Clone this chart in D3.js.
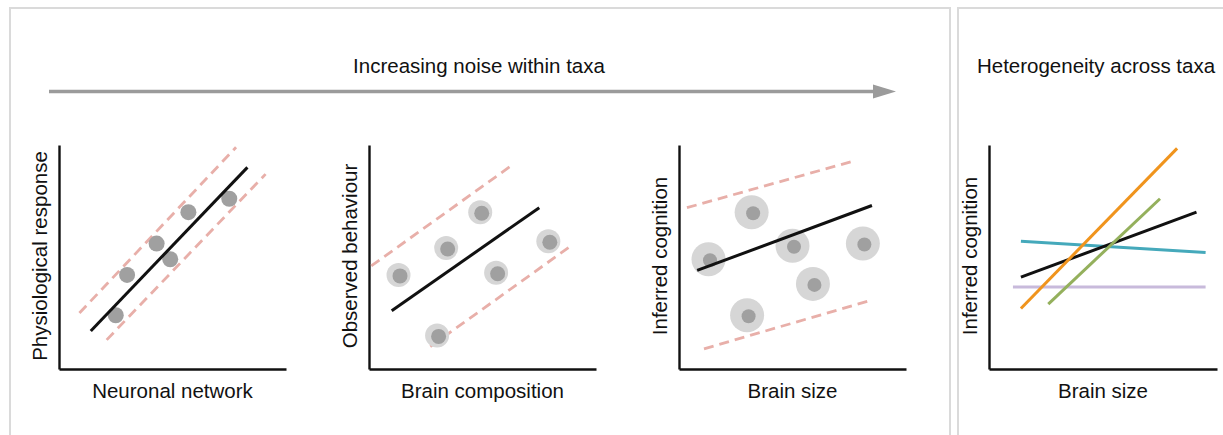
<!DOCTYPE html>
<meta charset="utf-8">
<script src="https://d3js.org/d3.v7.min.js"></script>
<style>
  body { margin: 0; background: #fff; }
  text { font-family: "Liberation Sans", Arial, sans-serif; fill: #111; }
</style>
<div id="chart"></div>
<script>

// panel texts
var xLabels = ["Neuronal network", "Brain composition", "Brain size", "Brain size"];
var yLabels = ["Physiological response", "Observed behaviour", "Inferred cognition", "Inferred cognition"];
var titleLeft = "Increasing noise within taxa";
var titleRight = "Heterogeneity across taxa";

// panel 1 - low noise (values on a 0-10 scale)
var p1Points = [[2.5, 2.4], [3.0, 4.2], [4.3, 5.6], [4.9, 4.9], [5.7, 7.0], [7.5, 7.6]];
var p1Fit = [[1.4, 1.7], [8.3, 9.0]];
var p1Upper = [[0.9, 2.5], [7.8, 9.9]];
var p1Lower = [[2.1, 1.3], [9.1, 8.7]];

// panel 2 - medium noise
var p2Points = [[1.3, 4.2], [3.4, 5.4], [4.9, 7.0], [5.6, 4.3], [7.9, 5.7], [3.0, 1.5]];
var p2Fit = [[1.0, 2.6], [7.5, 7.2]];
var p2Upper = [[0.1, 4.6], [6.3, 9.1]];
var p2Lower = [[2.7, 1.0], [8.9, 5.5]];

// panel 3 - high noise
var p3Points = [[1.3, 4.9], [3.2, 7.0], [5.0, 5.5], [8.1, 5.6], [5.9, 3.8], [3.0, 2.4]];
var p3Fit = [[0.8, 4.4], [8.5, 7.3]];
var p3Upper = [[0.35, 7.2], [7.75, 9.3]];
var p3Lower = [[1.1, 0.9], [8.4, 3.05]];

// panel 4 - heterogeneity across taxa, one slope per taxon
var taxa = ["lavender", "teal", "overall", "green", "orange"];
var taxaColors = ["#c8badb", "#45a9bb", "#111111", "#94b05c", "#f0941d"];
var taxaLines = [
  [[1.05, 3.66], [9.5, 3.66]],
  [[1.4, 5.7], [9.5, 5.2]],
  [[1.4, 4.1], [9.1, 7.0]],
  [[2.6, 2.9], [7.5, 7.6]],
  [[1.4, 2.7], [8.25, 9.85]]
];

var W = 1223, H = 435;
var svg = d3.select("#chart").append("svg")
  .attr("width", W)
  .attr("height", H);

// frames
svg.append("rect")
  .attr("x", 10).attr("y", 8)
  .attr("width", 940).attr("height", 460)
  .attr("fill", "none").attr("stroke", "#dadada").attr("stroke-width", 2);
svg.append("rect")
  .attr("x", 958).attr("y", 8)
  .attr("width", 300).attr("height", 460)
  .attr("fill", "none").attr("stroke", "#dadada").attr("stroke-width", 2);

// titles
svg.append("text")
  .attr("x", 479).attr("y", 73)
  .attr("text-anchor", "middle")
  .style("font-size", "20.5px")
  .text(titleLeft);
svg.append("text")
  .attr("x", 1096).attr("y", 73)
  .attr("text-anchor", "middle")
  .style("font-size", "20.5px")
  .text(titleRight);

// noise arrow
svg.append("line")
  .attr("x1", 49).attr("x2", 875)
  .attr("y1", 91.5).attr("y2", 91.5)
  .attr("stroke", "#9b9b9b").attr("stroke-width", 3.5);
svg.append("path")
  .attr("d", "M873,84.5 L896,91.5 L873,98.5 Z")
  .attr("fill", "#9b9b9b");

// axis boxes for each panel
var frames = [
  {x0: 59, x1: 286},
  {x0: 369, x1: 596},
  {x0: 679, x1: 906},
  {x0: 989, x1: 1217}
];
var yTop = 145, yBot = 369;

var panels = frames.map(function(f, i) {
  var x = d3.scaleLinear().domain([0, 10]).range([f.x0, f.x1]);
  var y = d3.scaleLinear().domain([0, 10]).range([yBot, yTop]);
  var g = svg.append("g");

  g.append("g")
    .attr("transform", "translate(0," + yBot + ")")
    .call(d3.axisBottom(x).tickValues([]).tickSizeOuter(0))
    .select(".domain").attr("stroke", "#111").attr("stroke-width", 2.4);
  g.append("g")
    .attr("transform", "translate(" + f.x0 + ",0)")
    .call(d3.axisLeft(y).tickValues([]).tickSizeOuter(0))
    .select(".domain").attr("stroke", "#111").attr("stroke-width", 2.4);

  g.append("text")
    .attr("x", (f.x0 + f.x1) / 2).attr("y", 398)
    .attr("text-anchor", "middle")
    .style("font-size", "20.5px")
    .text(xLabels[i]);
  g.append("text")
    .attr("transform", "translate(" + (f.x0 - 12) + "," + ((yTop + yBot) / 2 - 1) + ") rotate(-90)")
    .attr("text-anchor", "middle")
    .style("font-size", "20.5px")
    .text(yLabels[i]);

  return {g: g, x: x, y: y};
});

var line = function(p) {
  return d3.line().x(function(d) { return p.x(d[0]); }).y(function(d) { return p.y(d[1]); });
};

function noisePanel(p, pts, fit, upper, lower, halo, dot) {
  [upper, lower].forEach(function(b) {
    p.g.append("path")
      .datum(b)
      .attr("d", line(p))
      .attr("fill", "none")
      .attr("stroke", "#e8afa9")
      .attr("stroke-width", 2.8)
      .attr("stroke-dasharray", "10,6");
  });
  if (halo > 0) {
    p.g.selectAll(null).data(pts).enter().append("circle")
      .attr("cx", function(d) { return p.x(d[0]); })
      .attr("cy", function(d) { return p.y(d[1]); })
      .attr("r", halo)
      .attr("fill", "#d6d6d6");
  }
  p.g.selectAll(null).data(pts).enter().append("circle")
    .attr("cx", function(d) { return p.x(d[0]) + (halo > 0 ? 1.5 : 0); })
    .attr("cy", function(d) { return p.y(d[1]) + (halo > 0 ? 1 : 0); })
    .attr("r", dot)
    .attr("fill", "#a0a0a0");
  p.g.append("path")
    .datum(fit)
    .attr("d", line(p))
    .attr("fill", "none")
    .attr("stroke", "#111")
    .attr("stroke-width", 3);
}

noisePanel(panels[0], p1Points, p1Fit, p1Upper, p1Lower, 0, 8);
noisePanel(panels[1], p2Points, p2Fit, p2Upper, p2Lower, 12, 7.5);
noisePanel(panels[2], p3Points, p3Fit, p3Upper, p3Lower, 17, 7);

// heterogeneity panel
panels[3].g.selectAll(null).data(taxaLines).enter().append("path")
  .attr("d", line(panels[3]))
  .attr("fill", "none")
  .attr("stroke", function(d, i) { return taxaColors[i]; })
  .attr("stroke-width", 3);

</script>
